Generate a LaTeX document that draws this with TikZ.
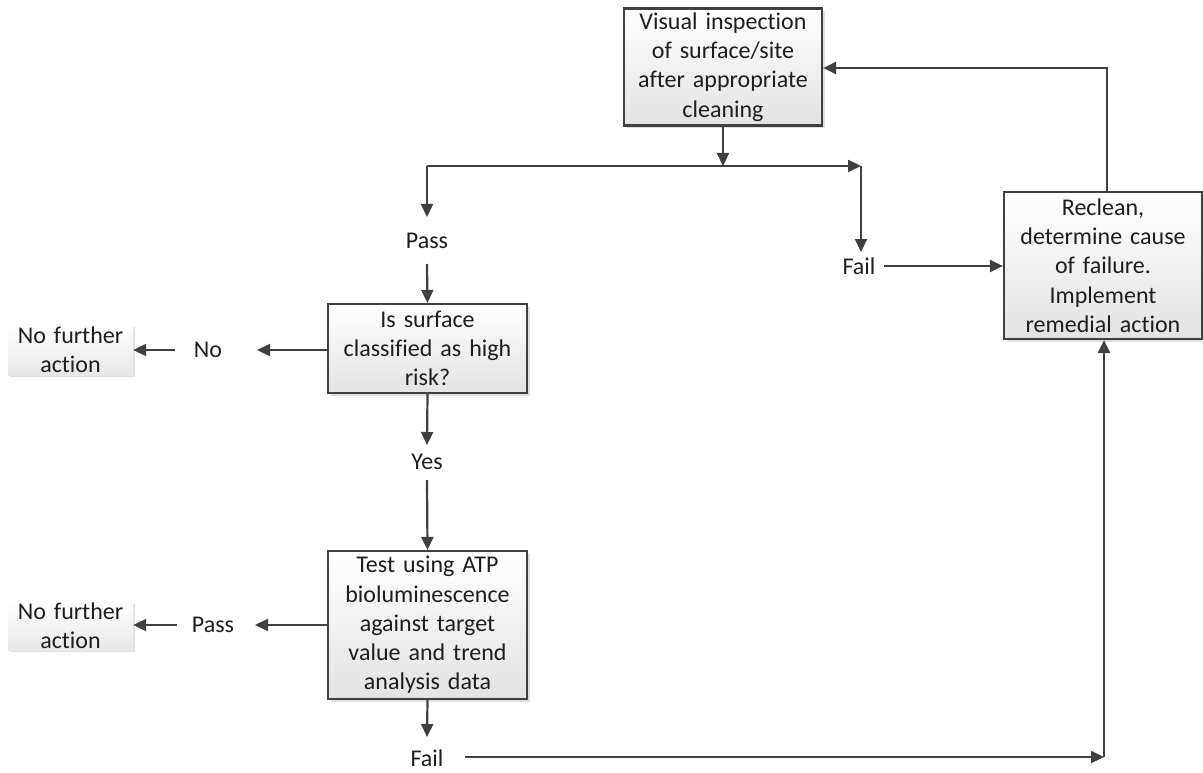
\documentclass[tikz,border=0pt]{standalone}
\usepackage{fontspec}
\setmainfont[Ligatures={NoCommon}]{Carlito}
\usetikzlibrary{arrows.meta,shadows,calc}
\definecolor{linec}{HTML}{404040}
\definecolor{textc}{HTML}{1E1E1E}
\tikzset{
  box/.style={draw=linec, line width=2.2pt, top color=white, bottom color=black!11,
    drop shadow={shadow xshift=2.5pt, shadow yshift=-2.5pt, fill=black!40, opacity=0.3},
    align=center, inner sep=0pt, text=textc},
  plainbox/.style={top color=white, bottom color=black!9,
    drop shadow={shadow xshift=2pt, shadow yshift=-2pt, fill=black!40, opacity=0.3},
    align=center, inner sep=0pt, text=textc},
  lbl/.style={inner sep=0pt, text=textc},
  arr/.style={draw=linec, line width=2.2pt, -{Triangle[length=13pt,width=12pt]}},
}
\begin{document}
\begin{tikzpicture}[x=1pt,y=-1pt, font=\fontsize{24}{29.3}\selectfont]
\useasboundingbox (0,0) rectangle (1203,773);
% boxes
\node[box, minimum width=198pt, minimum height=117pt, text width=190pt] (vis) at (723,67)
  {Visual inspection\\ of surface/site\\ after appropriate\\ cleaning};
\node[box, minimum width=198pt, minimum height=147pt, text width=190pt] (rec) at (1103,265.5)
  {Reclean,\\ determine cause\\ of failure.\\ Implement\\ remedial action};
\node[box, minimum width=199pt, minimum height=89pt, text width=191pt] (hr) at (427.5,348.5)
  {Is surface\\ classified as high\\ risk?};
\node[box, minimum width=199pt, minimum height=148pt, text width=191pt] (atp) at (427.5,625)
  {Test using ATP\\ bioluminescence\\ against target\\ value and trend\\ analysis data};
\node[plainbox, minimum width=125pt, minimum height=50pt, text width=120pt] (nfa1) at (70.5,350)
  {No further\\ action};
\node[plainbox, minimum width=125pt, minimum height=48pt, text width=120pt] (nfa2) at (70.5,626)
  {No further\\ action};
% labels
\node[lbl] (pass1) at (427,241) {Pass};
\node[lbl] (fail1) at (859,266) {Fail};
\node[lbl] (no) at (208,350) {No};
\node[lbl] (yes) at (427,462) {Yes};
\node[lbl] (pass2) at (213,625) {Pass};
\node[lbl] (fail2) at (427,758) {Fail};
% junction coordinates
\coordinate (j1) at (723,166);
\coordinate (cL) at (427,166);
\coordinate (cR) at (861,166);
\coordinate (cTop) at (1107,68);
\coordinate (cBot) at (1104,757);
% connectors
\draw[arr] (vis.south) -- (j1);
\draw[arr] (cL) -- (cR);
\draw[arr] (cL) -- ($(pass1.center)+(0,-24)$);
\draw[arr] ($(pass1.center)+(0,23)$) -- (hr.north);
\draw[arr] (cR) -- ($(cR |- fail1.center)+(0,-14)$);
\draw[arr] ($(fail1.center)+(25,0)$) -- (rec.west |- fail1);
\draw[arr] (hr.west |- no) -- ($(no.center)+(49,0)$);
\draw[arr] ($(no.center)+(-33,0)$) -- (nfa1.east |- no);
\draw[arr] (hr.south) -- ($(yes.center)+(0,-17)$);
\draw[arr] ($(yes.center)+(0,18)$) -- (atp.north);
\draw[arr] (atp.west |- pass2) -- ($(pass2.center)+(42,0)$);
\draw[arr] ($(pass2.center)+(-36,0)$) -- (nfa2.east |- pass2);
\draw[arr] (atp.south) -- ($(fail2.center)+(0,-21)$);
\draw[arr] ($(fail2.center)+(38,-1)$) -- (cBot);
\draw[arr] (cBot) -- (rec.south -| cBot);
\draw[arr] (rec.north -| cTop) -- (cTop) -- (vis.east |- cTop);
\end{tikzpicture}
\end{document}
